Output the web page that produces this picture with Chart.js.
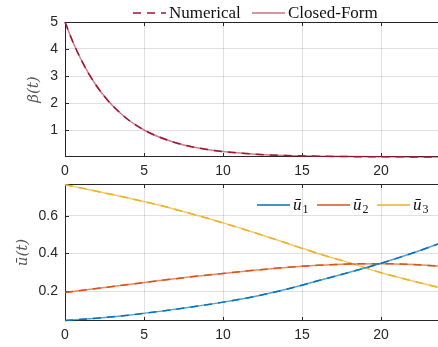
<!DOCTYPE html>
<html>
<head>
<meta charset="utf-8">
<script src="https://cdn.jsdelivr.net/npm/chart.js@4.4.1/dist/chart.umd.min.js"></script>
<style>
  html, body { margin: 0; padding: 0; background: #fff; }
  #wrap { position: relative; width: 438px; height: 347px; overflow: hidden; }
  canvas { position: absolute; left: 0; }
</style>
</head>
<body>
<div id="wrap">
  <canvas id="top" width="438" height="182" style="top:0"></canvas>
  <canvas id="bottom" width="438" height="183" style="top:164px"></canvas>
</div>
<script>
// beta(t)
const betaT = [0, 0.5, 1, 1.5, 2, 2.5, 3, 4, 5, 6, 7, 8, 9, 10, 12, 14, 16, 18, 20, 22, 24];
const betaVals = [5.0, 4.26, 3.63, 3.09, 2.63, 2.24, 1.91, 1.38, 1.0, 0.73, 0.53, 0.38, 0.28, 0.20, 0.105, 0.055, 0.029, 0.015, 0.008, 0.004, 0.002];

// u-bar components
const uT = [0, 2, 4, 6, 8, 10, 12, 14, 16, 18, 20, 22, 24];
const u1 = [0.044, 0.057, 0.073, 0.093, 0.116, 0.142, 0.172, 0.210, 0.255, 0.300, 0.348, 0.402, 0.462];
const u2 = [0.193, 0.214, 0.235, 0.256, 0.276, 0.294, 0.311, 0.326, 0.337, 0.344, 0.346, 0.341, 0.331];
const u3 = [0.764, 0.730, 0.694, 0.655, 0.610, 0.562, 0.510, 0.455, 0.400, 0.350, 0.298, 0.254, 0.213];

const xTicks = [0, 5, 10, 15, 20];
const betaTicks = [1, 2, 3, 4, 5];
const uTicks = [0.2, 0.4, 0.6];

const topLegend = ['Numerical', 'Closed-Form'];
const bottomLegend = ['1', '2', '3'];   // subscripts of u-bar

const axisColor = '#262626';
const gridColor = 'rgba(38,38,38,0.14)';
const tickFont = { family: 'Liberation Sans, Arial, sans-serif', size: 14 };

function pts(xs, ys) { return xs.map((x, i) => ({ x: x, y: ys[i] })); }

// frame with inward tick marks, drawn under the curves
const frame = {
  id: 'frame',
  beforeDatasetsDraw(chart) {
    const c = chart.ctx, a = chart.chartArea;
    const xs = chart.scales.x, ys = chart.scales.y;
    c.save();
    c.strokeStyle = axisColor;
    c.lineWidth = 1;
    c.beginPath();
    c.moveTo(a.right + 1, a.top + 0.5); c.lineTo(a.left + 0.5, a.top + 0.5);
    c.lineTo(a.left + 0.5, a.bottom - 0.5); c.lineTo(a.right + 1, a.bottom - 0.5);
    xs.ticks.forEach(t => {
      const px = Math.round(xs.getPixelForValue(t.value)) + 0.5;
      c.moveTo(px, a.top); c.lineTo(px, a.top + 4);
      c.moveTo(px, a.bottom); c.lineTo(px, a.bottom - 4);
    });
    ys.ticks.forEach(t => {
      const py = Math.round(ys.getPixelForValue(t.value)) + 0.5;
      c.moveTo(a.left, py); c.lineTo(a.left + 4, py);
    });
    c.stroke();
    c.restore();
  }
};

// hand-drawn legends so they sit where the original has them
const legendDraw = {
  id: 'legendDraw',
  afterDraw(chart, args, opts) {
    const c = chart.ctx;
    c.save();
    c.textBaseline = 'middle';
    opts.items.forEach(it => {
      c.strokeStyle = it.color;
      c.lineWidth = 1.5;
      c.setLineDash(it.dash || []);
      c.beginPath();
      c.moveTo(it.x, opts.y); c.lineTo(it.x + 33, opts.y);
      c.stroke();
      c.setLineDash([]);
      c.fillStyle = '#111';
      c.font = opts.font;
      c.fillText(it.text, it.x + 36, opts.y + 1);
      if (it.sub) {
        const w = c.measureText(it.text).width;
        c.font = opts.subFont;
        c.fillText(it.sub, it.x + 36 + w + 1, opts.y + 5);
      }
    });
    c.restore();
  }
};

function xScale() {
  return {
    type: 'linear', min: 0, max: 23.6,
    afterBuildTicks: s => { s.ticks = xTicks.map(v => ({ value: v })); },
    ticks: { color: axisColor, font: tickFont, padding: 6, maxRotation: 0 },
    grid: { color: gridColor, drawTicks: false },
    border: { display: false }
  };
}
function yScale(min, max, ticks, title, titleGap) {
  return {
    type: 'linear', min: min, max: max,
    afterBuildTicks: s => { s.ticks = ticks.map(v => ({ value: v })); },
    afterFit: s => { s.width = 65; },
    ticks: { color: axisColor, font: tickFont, padding: 7 },
    grid: { color: gridColor, drawTicks: false },
    border: { display: false },
    title: { display: true, text: title, color: '#555', padding: { top: titleGap, bottom: 0 },
             font: { family: 'DejaVu Serif, serif', size: 15, style: 'italic' } }
  };
}

const dark = '#A2142F', light = 'rgba(162,20,47,0.55)';
const clipArea = { left: 2, top: 2, right: 0, bottom: 3 };

new Chart(document.getElementById('top'), {
  type: 'line',
  data: {
    datasets: [
      { label: topLegend[0], data: pts(betaT, betaVals), borderColor: dark, borderDash: [8, 6], borderWidth: 1.5, pointRadius: 0, cubicInterpolationMode: 'monotone', clip: clipArea },
      { label: topLegend[1], data: pts(betaT, betaVals), borderColor: light, borderWidth: 1.5, pointRadius: 0, cubicInterpolationMode: 'monotone', clip: clipArea }
    ]
  },
  options: {
    responsive: false, animation: false,
    layout: { padding: { top: 22, right: 0, left: 0, bottom: 0 } },
    scales: {
      x: Object.assign(xScale(), { afterFit: s => { s.height = 25; } }),
      y: yScale(0, 5, betaTicks, '\u03B2(t)', 25)
    },
    plugins: {
      legend: { display: false }, tooltip: { enabled: false },
      legendDraw: {
        font: '17px "Liberation Serif", serif', y: 13,
        items: [
          { x: 133, text: topLegend[0], color: dark, dash: [8, 6] },
          { x: 252, text: topLegend[1], color: 'rgba(162,20,47,0.6)' }
        ]
      }
    }
  },
  plugins: [frame, legendDraw]
});

const blue = '#0072BD', orange = '#D95319', yellow = '#EDB120';
function pair(vals, col, name) {
  return [
    { label: name, data: pts(uT, vals), borderColor: col, borderDash: [8, 6], borderWidth: 1.5, pointRadius: 0, cubicInterpolationMode: 'monotone', clip: clipArea },
    { label: name, data: pts(uT, vals), borderColor: col + 'AA', borderWidth: 1.5, pointRadius: 0, cubicInterpolationMode: 'monotone', clip: clipArea }
  ];
}

new Chart(document.getElementById('bottom'), {
  type: 'line',
  data: {
    datasets: [].concat(pair(u1, blue, bottomLegend[0]), pair(u2, orange, bottomLegend[1]), pair(u3, yellow, bottomLegend[2]))
  },
  options: {
    responsive: false, animation: false,
    layout: { padding: { top: 20, right: 0, left: 0, bottom: 0 } },
    scales: {
      x: Object.assign(xScale(), { afterFit: s => { s.height = 26; } }),
      y: yScale(0.042, 0.768, uTicks, 'u\u0304(t)', 14)
    },
    plugins: {
      legend: { display: false }, tooltip: { enabled: false },
      legendDraw: {
        font: 'italic 17px "Liberation Serif", serif', subFont: '12px "Liberation Serif", serif', y: 41,
        items: [
          { x: 257, text: 'u\u0304', sub: bottomLegend[0], color: blue },
          { x: 317, text: 'u\u0304', sub: bottomLegend[1], color: orange },
          { x: 377, text: 'u\u0304', sub: bottomLegend[2], color: yellow }
        ]
      }
    }
  },
  plugins: [frame, legendDraw]
});
</script>
</body>
</html>
